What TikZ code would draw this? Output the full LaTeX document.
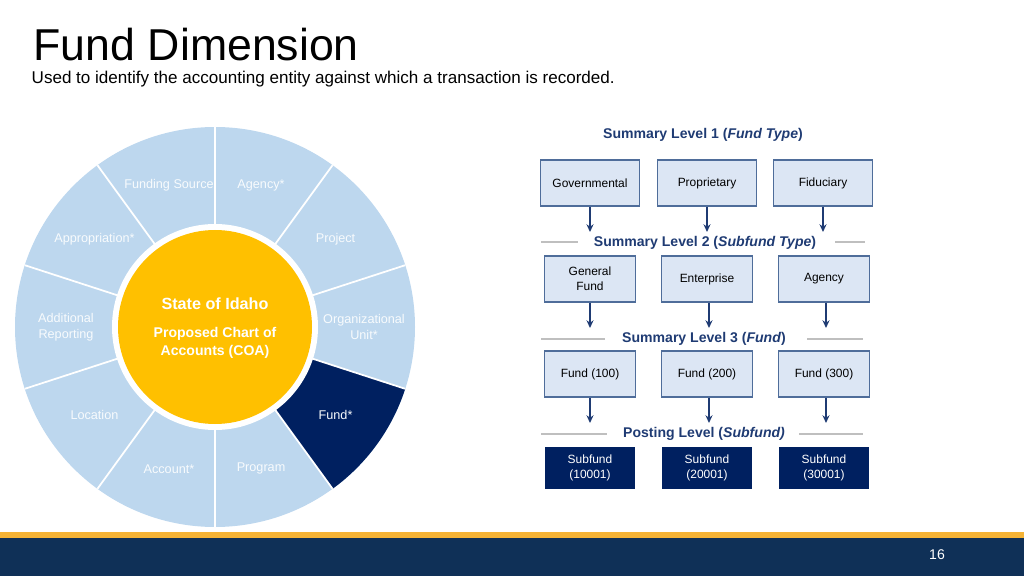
\documentclass[tikz,border=0pt]{standalone}
\usepackage{fontspec}
\setmainfont{Liberation Sans}
\usetikzlibrary{positioning,arrows.meta}
\definecolor{wheelblue}{HTML}{BDD7EE}
\definecolor{coagold}{HTML}{FFC000}
\definecolor{navy}{HTML}{002060}
\definecolor{boxfill}{HTML}{DCE6F4}
\definecolor{boxline}{HTML}{4F6D9A}
\definecolor{barnavy}{HTML}{0F3057}
\definecolor{barorange}{HTML}{F5B335}
\definecolor{headblue}{HTML}{1F3B73}
\tikzset{
  levelbox/.style={draw=boxline,fill=boxfill,minimum height=46\unitpx,align=center,
    font=\fontsize{3.4pt}{4.3pt}\selectfont,inner sep=0pt},
  postbox/.style={fill=navy,text=white,minimum height=43\unitpx,minimum width=91\unitpx,
    align=center,font=\fontsize{3.4pt}{4.3pt}\selectfont,inner sep=0pt},
  levelhead/.style={text=headblue,font=\bfseries\fontsize{4pt}{5pt}\selectfont},
  sepline/.style={draw=gray!50,line width=0.4pt},
  downarrow/.style={draw=headblue,line width=0.4pt,-{Stealth[length=2.2pt,width=2pt]}},
  seglabel/.style={text=white!90!wheelblue,align=center,font=\fontsize{3.6pt}{4.4pt}\selectfont}
}
\newcommand{\unitpx}{pt*0.2835}
\begin{document}
\begin{tikzpicture}[x=0.01cm,y=-0.01cm]
  \useasboundingbox (0,0) rectangle (1024,576);
  % title
  \node[anchor=west,inner sep=0pt,font=\fontsize{12.7pt}{14pt}\selectfont] (title) at (33,45) {Fund Dimension};
  \node[anchor=west,inner sep=0pt,font=\fontsize{4.85pt}{6pt}\selectfont] (subtitle) at (31,79)
    {Used to identify the accounting entity against which a transaction is recorded.};
  % wheel
  \begin{scope}[shift={(215,327)},yscale=-1]
    \fill[wheelblue] (0,0) circle (200);
    \fill[navy] (0,0) -- (-18:200) arc (-18:-54:200) -- cycle;
    \foreach \a in {90,54,...,-234}
      \draw[white,line width=0.5pt] (0,0) -- (\a:200);
    \fill[white] (0,0) circle (103);
    \fill[coagold] (0,0) circle (97);
    \foreach \a/\txt in {108/Funding Source,72/Agency*,36/Project,0/{Organizational\\Unit*},
        -36/Fund*,-72/Program,-108/Account*,-144/Location,180/{Additional\\Reporting},144/Appropriation*}
      \node[seglabel] at (\a:149) {\txt};
  \end{scope}
  \node[text=white,font=\bfseries\fontsize{4.6pt}{5.5pt}\selectfont] (state) at (215,304) {State of Idaho};
  \node[text=white,align=center,font=\bfseries\fontsize{4pt}{5pt}\selectfont] (coa) at (215,343)
    {Proposed Chart of\\Accounts (COA)};
  % levels
  \node[levelhead] (head1) at (703,135) {Summary Level 1 (\textit{Fund Type})};
  \node[levelbox,minimum width=99\unitpx] (gov) at (590,183) {Governmental};
  \node[levelbox,minimum width=99\unitpx] (prop) at (707,183) {Proprietary};
  \node[levelbox,minimum width=99\unitpx] (fid) at (823,183) {Fiduciary};
  \node[levelhead] (head2) at (705,243) {Summary Level 2 (\textit{Subfund Type})};
  \node[levelbox,minimum width=91\unitpx] (gen) at (590,279) {General\\Fund};
  \node[levelbox,minimum width=91\unitpx] (ent) at (707,279) {Enterprise};
  \node[levelbox,minimum width=91\unitpx] (agy) at (824,279) {Agency};
  \node[levelhead] (head3) at (704,339) {Summary Level 3 (\textit{Fund})};
  \node[levelbox,minimum width=91\unitpx] (f100) at (590,374) {Fund (100)};
  \node[levelbox,minimum width=91\unitpx] (f200) at (707,374) {Fund (200)};
  \node[levelbox,minimum width=91\unitpx] (f300) at (824,374) {Fund (300)};
  \node[levelhead] (head4) at (704,434) {Posting Level (\textit{Subfund)}};
  \node[postbox] (s1) at (590,468) {Subfund\\(10001)};
  \node[postbox] (s2) at (707,468) {Subfund\\(20001)};
  \node[postbox] (s3) at (824,468) {Subfund\\(30001)};
  % separator lines
  \draw[sepline] (541,242) -- (578,242);  \draw[sepline] (835,242) -- (865,242);
  \draw[sepline] (541,339) -- (605,339);  \draw[sepline] (807,339) -- (863,339);
  \draw[sepline] (541,434) -- (607,434);  \draw[sepline] (799,434) -- (863,434);
  % arrows
  \coordinate (e1) at (590,232); \coordinate (e2) at (707,232); \coordinate (e3) at (823,232);
  \coordinate (e4) at (590,328); \coordinate (e5) at (709,328); \coordinate (e6) at (826,328);
  \coordinate (e7) at (590,423); \coordinate (e8) at (709,423); \coordinate (e9) at (826,423);
  \draw[downarrow] (gov.south) -- (e1); \draw[downarrow] (prop.south) -- (e2); \draw[downarrow] (fid.south) -- (e3);
  \draw[downarrow] (gen.south) -- (e4); \draw[downarrow] (ent.south -| e5) -- (e5); \draw[downarrow] (agy.south -| e6) -- (e6);
  \draw[downarrow] (f100.south) -- (e7); \draw[downarrow] (f200.south -| e8) -- (e8); \draw[downarrow] (f300.south -| e9) -- (e9);
  % footer
  \fill[barorange] (0,532) rectangle (1024,538);
  \fill[barnavy] (0,538) rectangle (1024,576);
  \node[text=white,font=\fontsize{4pt}{5pt}\selectfont] (page) at (937,555) {16};
\end{tikzpicture}
\end{document}
